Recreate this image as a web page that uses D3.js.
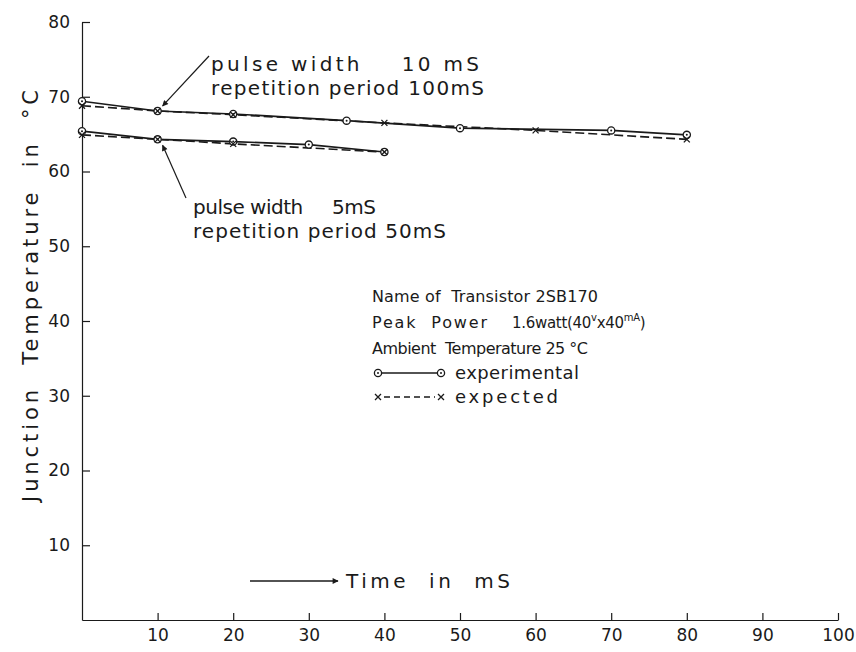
<!DOCTYPE html>
<html>
<head>
<meta charset="utf-8">
<script src="https://cdn.jsdelivr.net/npm/d3@7"></script>
<style>
  body { margin: 0; background: #fff; }
  svg { font-family: "DejaVu Sans", sans-serif; }
  text { fill: #1a1a1a; }
</style>
</head>
<body>
<svg id="chart" width="856" height="652"></svg>
<script>
// time in mS, junction temperature in deg C
var xTicks = [10, 20, 30, 40, 50, 60, 70, 80, 90, 100];
var yTicks = [10, 20, 30, 40, 50, 60, 70, 80];

// pulse width 10 mS, repetition period 100 mS
var longExpT = [0, 10, 20, 35, 50, 70, 80];
var longExpV = [69.4, 68.1, 67.7, 66.8, 65.8, 65.5, 64.9];
var longCalcT = [0, 10, 20, 40, 60, 80];
var longCalcV = [68.8, 68.1, 67.6, 66.5, 65.5, 64.3];

// pulse width 5 mS, repetition period 50 mS
var shortExpT = [0, 10, 20, 30, 40];
var shortExpV = [65.4, 64.3, 64.0, 63.6, 62.6];
var shortCalcT = [0, 10, 20, 40];
var shortCalcV = [64.9, 64.3, 63.7, 62.6];

(function() {
  var svg = d3.select("#chart");
  var x = d3.scaleLinear().domain([0, 100]).range([82, 838]);
  var y = d3.scaleLinear().domain([0, 80]).range([620, 22]);
  var ink = "#1a1a1a";

  var xAxis = svg.append("g")
      .attr("transform", "translate(0," + y(0) + ")")
      .call(d3.axisBottom(x).tickValues(xTicks).tickFormat(d3.format("d"))
        .tickSizeInner(-7).tickSizeOuter(0).tickPadding(9));
  var yAxis = svg.append("g")
      .attr("transform", "translate(" + x(0) + ",0)")
      .call(d3.axisLeft(y).tickValues(yTicks).tickFormat(d3.format("d"))
        .tickSizeInner(-8).tickSizeOuter(0).tickPadding(12));
  [xAxis, yAxis].forEach(function(a) {
    a.selectAll("path, line").attr("stroke", ink).attr("stroke-width", 1.2);
    a.selectAll("text").attr("fill", ink).style("font-size", "17px")
      .style("font-family", "DejaVu Sans, sans-serif");
  });

  function series(ts, vs) {
    return ts.map(function(t, i) { return [t, vs[i]]; });
  }
  var line = d3.line().x(function(d) { return x(d[0]); }).y(function(d) { return y(d[1]); });

  var sets = [
    {data: series(longExpT, longExpV), dash: null, mark: "o"},
    {data: series(longCalcT, longCalcV), dash: "9,4", mark: "x"},
    {data: series(shortExpT, shortExpV), dash: null, mark: "o"},
    {data: series(shortCalcT, shortCalcV), dash: "9,4", mark: "x"}
  ];

  sets.forEach(function(s) {
    svg.append("path")
      .attr("d", line(s.data))
      .attr("fill", "none")
      .attr("stroke", ink)
      .attr("stroke-width", 1.6)
      .attr("stroke-dasharray", s.dash);
  });

  function drawO(g, cx, cy) {
    g.append("circle").attr("cx", cx).attr("cy", cy).attr("r", 3.6)
      .attr("fill", "#fff").attr("stroke", ink).attr("stroke-width", 1.3);
    g.append("circle").attr("cx", cx).attr("cy", cy).attr("r", 1).attr("fill", ink);
  }
  function drawX(g, cx, cy) {
    g.append("path")
      .attr("d", "M" + (cx - 3) + "," + (cy - 3) + "L" + (cx + 3) + "," + (cy + 3) +
                 "M" + (cx - 3) + "," + (cy + 3) + "L" + (cx + 3) + "," + (cy - 3))
      .attr("stroke", ink).attr("stroke-width", 1.3);
  }
  var marks = svg.append("g");
  sets.forEach(function(s) {
    s.data.forEach(function(d) {
      if (s.mark == "o") drawO(marks, x(d[0]), y(d[1]));
      else drawX(marks, x(d[0]), y(d[1]));
    });
  });

  // arrow head marker
  svg.append("defs").append("marker")
      .attr("id", "ah")
      .attr("viewBox", "0 0 10 10")
      .attr("refX", 9).attr("refY", 5)
      .attr("markerWidth", 10).attr("markerHeight", 6)
      .attr("markerUnits", "userSpaceOnUse")
      .attr("orient", "auto")
      .append("path").attr("d", "M0,0L10,5L0,10z").attr("fill", ink);

  // annotations for the two curves
  svg.append("line")
      .attr("x1", 209).attr("y1", 56)
      .attr("x2", x(10) + 5).attr("y2", y(68.1) - 5)
      .attr("stroke", ink).attr("stroke-width", 1.2)
      .attr("marker-end", "url(#ah)");
  svg.append("line")
      .attr("x1", 186).attr("y1", 198)
      .attr("x2", x(10) + 5).attr("y2", y(64.3) + 6)
      .attr("stroke", ink).attr("stroke-width", 1.2)
      .attr("marker-end", "url(#ah)");

  // w = length the lettering takes in the drawing
  var notes = [
    {x: 211, y: 71, t: "pulse width    10 mS", w: 268, s: 20},
    {x: 211, y: 95, t: "repetition period 100mS", w: 273, s: 20},
    {x: 193, y: 214, t: "pulse width     5mS", w: 183, s: 20},
    {x: 193, y: 238, t: "repetition period 50mS", w: 253, s: 20},
    {x: 372, y: 302, t: "Name of  Transistor 2SB170", w: 226, s: 16},
    {x: 372, y: 328, t: "Peak  Power", w: 115, s: 16},
    {x: 372, y: 354, t: "Ambient  Temperature 25 °C", w: 216, s: 16},
    {x: 455, y: 379, t: "experimental", w: 124, s: 18},
    {x: 455, y: 403, t: "expected", w: 103, s: 18}
  ];
  svg.selectAll("text.note").data(notes).enter().append("text")
      .attr("class", "note")
      .attr("x", function(d) { return d.x; })
      .attr("y", function(d) { return d.y; })
      .attr("textLength", function(d) { return d.w; })
      .attr("lengthAdjust", "spacing")
      .style("font-size", function(d) { return d.s + "px"; })
      .style("white-space", "pre")
      .text(function(d) { return d.t; });

  var pw = svg.append("text").attr("x", 512).attr("y", 328)
      .style("font-size", "15px").style("letter-spacing", "-0.3px");
  pw.append("tspan").text("1.6watt(40");
  pw.append("tspan").attr("dy", -7).style("font-size", "10px").text("v");
  pw.append("tspan").attr("dy", 7).text("x40");
  pw.append("tspan").attr("dy", -7).style("font-size", "10px").text("mA");
  pw.append("tspan").attr("dy", 7).text(")");

  // legend samples
  drawO(svg, 378, 373);
  drawO(svg, 441, 373);
  svg.append("line").attr("x1", 382).attr("x2", 437).attr("y1", 373).attr("y2", 373)
      .attr("stroke", ink).attr("stroke-width", 1.3);
  drawX(svg, 378, 397);
  drawX(svg, 441, 397);
  svg.append("line").attr("x1", 384).attr("x2", 435).attr("y1", 397).attr("y2", 397)
      .attr("stroke", ink).attr("stroke-width", 1.3).attr("stroke-dasharray", "6,4");

  // axis titles
  svg.append("line")
      .attr("x1", 250).attr("y1", 581).attr("x2", 338).attr("y2", 581)
      .attr("stroke", ink).attr("stroke-width", 1.3)
      .attr("marker-end", "url(#ah)");
  svg.append("text").attr("x", 346).attr("y", 588)
      .attr("textLength", 164).attr("lengthAdjust", "spacing")
      .style("font-size", "20px").style("white-space", "pre")
      .text("Time  in  mS");

  svg.append("text")
      .attr("transform", "translate(38,296) rotate(-90)")
      .attr("text-anchor", "middle")
      .attr("textLength", 412).attr("lengthAdjust", "spacing")
      .style("font-size", "21px").style("white-space", "pre")
      .text("Junction  Temperature  in  °C");
})();
</script>
</body>
</html>
